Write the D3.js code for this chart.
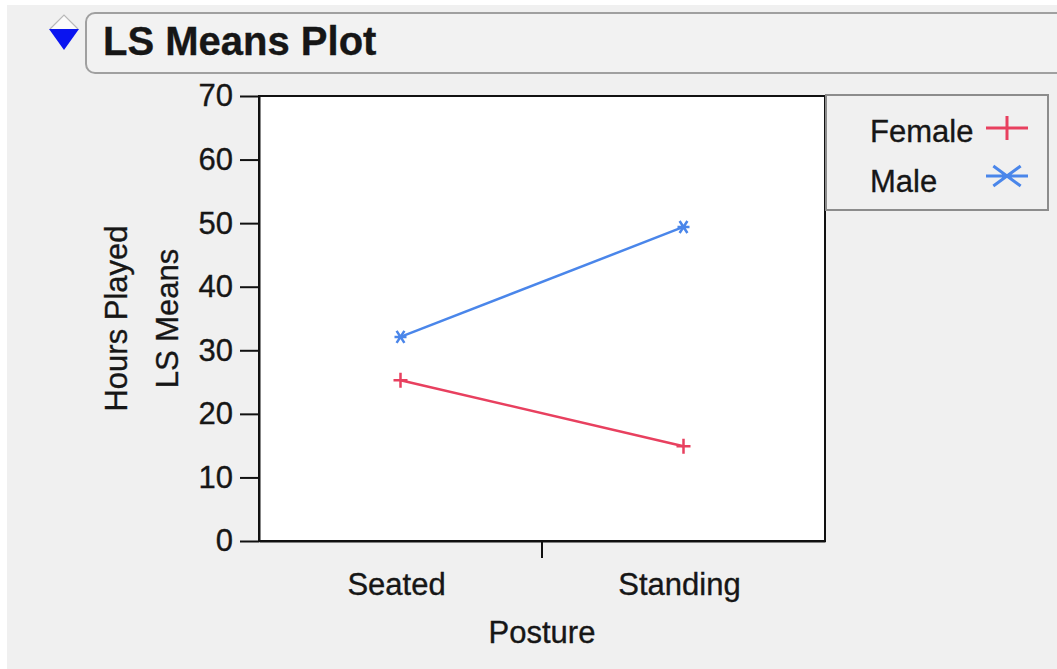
<!DOCTYPE html>
<html>
<head>
<meta charset="utf-8">
<script src="https://cdn.jsdelivr.net/npm/d3@7"></script>
<style>
  html, body { margin: 0; padding: 0; background: #ffffff; }
  svg { display: block; }
  text { font-family: "Liberation Sans", Arial, sans-serif; fill: #161616; stroke: #161616; stroke-width: 0.35px; }
</style>
</head>
<body>
<svg id="chart" width="1057" height="669"></svg>
<script>
// LS means of hours played by posture and sex
const categories = ["Seated", "Standing"];
const seriesNames = ["Female", "Male"];
const femaleMeans = [25.3, 14.9];
const maleMeans = [32.1, 49.4];
const yTicks = [0, 10, 20, 30, 40, 50, 60, 70];

const series = [
  { name: seriesNames[0], values: femaleMeans, color: "#e8405f", marker: "plus" },
  { name: seriesNames[1], values: maleMeans, color: "#4a86ea", marker: "star" }
];

const svg = d3.select("#chart");
const W = 1057, H = 669;
const plot = { left: 259, right: 825, top: 96, bottom: 541 };
const FS = 31;

// panel background
svg.append("rect").attr("x", 7).attr("y", 5).attr("width", W - 7).attr("height", H - 5)
  .attr("fill", "#f0f0f0");

// outline header
svg.append("rect").attr("x", 86).attr("y", 13).attr("width", W).attr("height", 60)
  .attr("rx", 9).attr("fill", "#f2f2f2").attr("stroke", "#a0a0a0").attr("stroke-width", 2);
svg.append("path").attr("d", "M50,29 L64,15 L78,29")
  .attr("fill", "#fbfbfb").attr("stroke", "#b8b8b8").attr("stroke-width", 1.2);
svg.append("path").attr("d", "M49,29 L79,29 L64,50 Z").attr("fill", "#0a14f0");
svg.append("text").attr("x", 103).attr("y", 55)
  .attr("font-size", 40).attr("font-weight", "bold").text("LS Means Plot");

const x = d3.scaleBand().domain(categories).range([plot.left, plot.right]).padding(0);
const y = d3.scaleLinear().domain([0, 70]).range([plot.bottom, plot.top]);

// plot frame
svg.append("rect").attr("x", plot.left).attr("y", plot.top)
  .attr("width", plot.right - plot.left).attr("height", plot.bottom - plot.top)
  .attr("fill", "#ffffff").attr("stroke", "#111").attr("stroke-width", 2);

// y axis
const yAxis = svg.append("g").attr("transform", `translate(${plot.left},0)`)
  .call(d3.axisLeft(y).tickValues(yTicks).tickSize(19).tickPadding(7).tickSizeOuter(0));
yAxis.select(".domain").attr("stroke", "#111").attr("stroke-width", 2);
yAxis.selectAll(".tick line").attr("stroke", "#111").attr("stroke-width", 2);
yAxis.selectAll(".tick text").attr("font-size", FS).attr("font-family", "Liberation Sans, Arial, sans-serif")
  .attr("fill", "#161616");

// x axis
const xAxis = svg.append("g").attr("transform", `translate(0,${plot.bottom})`)
  .call(d3.axisBottom(x).tickSize(0).tickPadding(32).tickSizeOuter(0));
xAxis.select(".domain").attr("stroke", "#111").attr("stroke-width", 2);
xAxis.selectAll(".tick text").attr("font-size", FS).attr("font-family", "Liberation Sans, Arial, sans-serif")
  .attr("fill", "#161616").attr("dx", -4);
// tick between the two levels
categories.slice(1).forEach(c => {
  svg.append("line").attr("x1", x(c)).attr("x2", x(c))
    .attr("y1", plot.bottom).attr("y2", plot.bottom + 17)
    .attr("stroke", "#111").attr("stroke-width", 2);
});

// axis titles
svg.append("text").attr("transform", `translate(127,${(plot.top + plot.bottom) / 2}) rotate(-90)`)
  .attr("text-anchor", "middle").attr("font-size", FS).text("Hours Played");
svg.append("text").attr("transform", `translate(178,${(plot.top + plot.bottom) / 2}) rotate(-90)`)
  .attr("text-anchor", "middle").attr("font-size", FS).text("LS Means");
svg.append("text").attr("x", (plot.left + plot.right) / 2).attr("y", 643)
  .attr("text-anchor", "middle").attr("font-size", FS).text("Posture");

// markers
function markerPath(type, cx, cy, w, h) {
  if (type === "plus") {
    return `M${cx - w},${cy} L${cx + w},${cy} M${cx},${cy - h} L${cx},${cy + h}`;
  }
  const a = w * 0.65;
  return `M${cx - w},${cy} L${cx + w},${cy} M${cx - a},${cy - h} L${cx + a},${cy + h} M${cx - a},${cy + h} L${cx + a},${cy - h}`;
}

const line = d3.line().x((d, i) => x(categories[i]) + x.bandwidth() / 2).y(d => y(d));

series.forEach(s => {
  svg.append("path").datum(s.values).attr("d", line)
    .attr("fill", "none").attr("stroke", s.color).attr("stroke-width", 2.5);
  s.values.forEach((v, i) => {
    const cx = x(categories[i]) + x.bandwidth() / 2, cy = y(v);
    svg.append("path")
      .attr("d", s.marker === "plus" ? markerPath("plus", cx, cy, 7, 7.5) : markerPath("star", cx, cy, 6, 6))
      .attr("fill", "none").attr("stroke", s.color).attr("stroke-width", 2.5);
  });
});

// legend
const lg = svg.append("g");
lg.append("rect").attr("x", 826).attr("y", 95).attr("width", 222).attr("height", 115)
  .attr("fill", "#f0f0f0").attr("stroke", "#8c8c8c").attr("stroke-width", 2);
series.forEach((s, i) => {
  const cy = 128 + i * 48;
  lg.append("text").attr("x", 870).attr("y", cy + 14 + i * 2).attr("font-size", FS).text(s.name);
  lg.append("path")
    .attr("d", s.marker === "plus" ? markerPath("plus", 1007, cy, 21, 12) : markerPath("star", 1007, cy, 21, 10))
    .attr("fill", "none").attr("stroke", s.color).attr("stroke-width", 3);
});
</script>
</body>
</html>
